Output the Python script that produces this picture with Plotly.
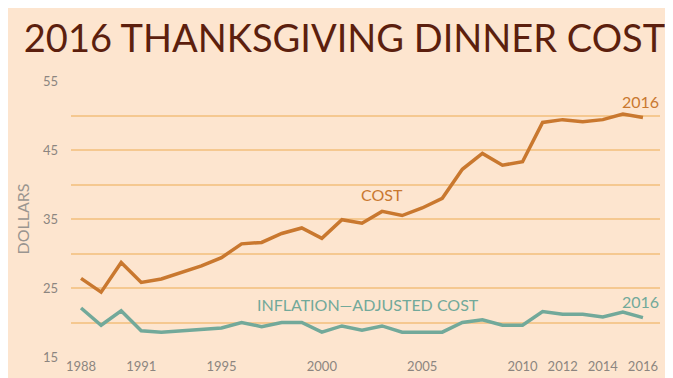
import plotly.graph_objects as go

years = list(range(1988, 2017))
cost = [26.4, 24.4, 28.7, 25.8, 26.3, 27.3, 28.2, 29.4, 31.4, 31.6, 32.9, 33.7, 32.2,
        34.9, 34.4, 36.1, 35.5, 36.6, 38.0, 42.2, 44.5, 42.8, 43.3, 49.0, 49.4, 49.1,
        49.4, 50.2, 49.7]
adjusted = [22.1, 19.6, 21.7, 18.8, 18.6, 18.8, 18.9, 19.2, 20.0, 19.4, 20.0, 20.0, 18.6,
            19.5, 18.9, 19.5, 18.6, 18.6, 18.6, 20.0, 20.4, 19.6, 19.6, 21.6, 21.2, 21.2,
            20.8, 21.5, 20.7]
x_ticks = [1988, 1991, 1995, 2000, 2005, 2010, 2012, 2014, 2016]
y_ticks = [15, 20, 25, 30, 35, 40, 45, 50, 55]
y_labels = ["15", "", "25", "", "35", "", "45", "", "55"]

BG = "#fde5cf"
GRID = "#f5c890"
ORANGE = "#c9782f"
TEAL = "#72a99a"
GREY = "#8c8580"
FONT = "Lato"

fig = go.Figure()
fig.add_trace(go.Scatter(x=years, y=cost, mode="lines",
                         line=dict(color=ORANGE, width=3.5), hoverinfo="skip"))
fig.add_trace(go.Scatter(x=years, y=adjusted, mode="lines",
                         line=dict(color=TEAL, width=3.5), hoverinfo="skip"))

fig.update_layout(
    width=673, height=378,
    paper_bgcolor=BG, plot_bgcolor=BG,
    margin=dict(l=63, r=21, t=73, b=25),
    showlegend=False,
    font=dict(family=FONT, color=GREY),
    title=dict(text="2016 THANKSGIVING DINNER COST", x=0.5, xanchor="center",
               y=1 - 31 / 378, yanchor="middle",
               font=dict(family=FONT, size=38, color="#5c1f0e")),
    xaxis=dict(range=[1987.5, 2016.85], tickvals=x_ticks,
               ticktext=[str(v) for v in x_ticks], showgrid=False, zeroline=False,
               showline=False, ticks="", tickfont=dict(size=13, color=GREY)),
    yaxis=dict(range=[15, 55], tickvals=y_ticks, ticktext=y_labels,
               showgrid=True, gridcolor=GRID, gridwidth=1.5, zeroline=False,
               showline=False, ticks="", ticklabelstandoff=12,
               tickfont=dict(size=13, color=GREY)),
)

fig.add_annotation(x=2003, y=38.5, text="COST", showarrow=False,
                   font=dict(family=FONT, size=16, color=ORANGE))
fig.add_annotation(x=2002.3, y=22.6, text="INFLATION—ADJUSTED COST", showarrow=False,
                   font=dict(family=FONT, size=16, color=TEAL))
fig.add_annotation(x=2015.9, y=52.0, text="2016", showarrow=False,
                   font=dict(family=FONT, size=16, color=ORANGE))
fig.add_annotation(x=2015.9, y=23.1, text="2016", showarrow=False,
                   font=dict(family=FONT, size=16, color=TEAL))
fig.add_annotation(xref="paper", yref="paper", x=-0.084, y=(378 - 25 - 213) / 280,
                   xanchor="center", yanchor="middle", text="DOLLARS", textangle=-90,
                   showarrow=False, font=dict(family=FONT, size=16, color="#9a9590"))

fig.write_html("out.html")
